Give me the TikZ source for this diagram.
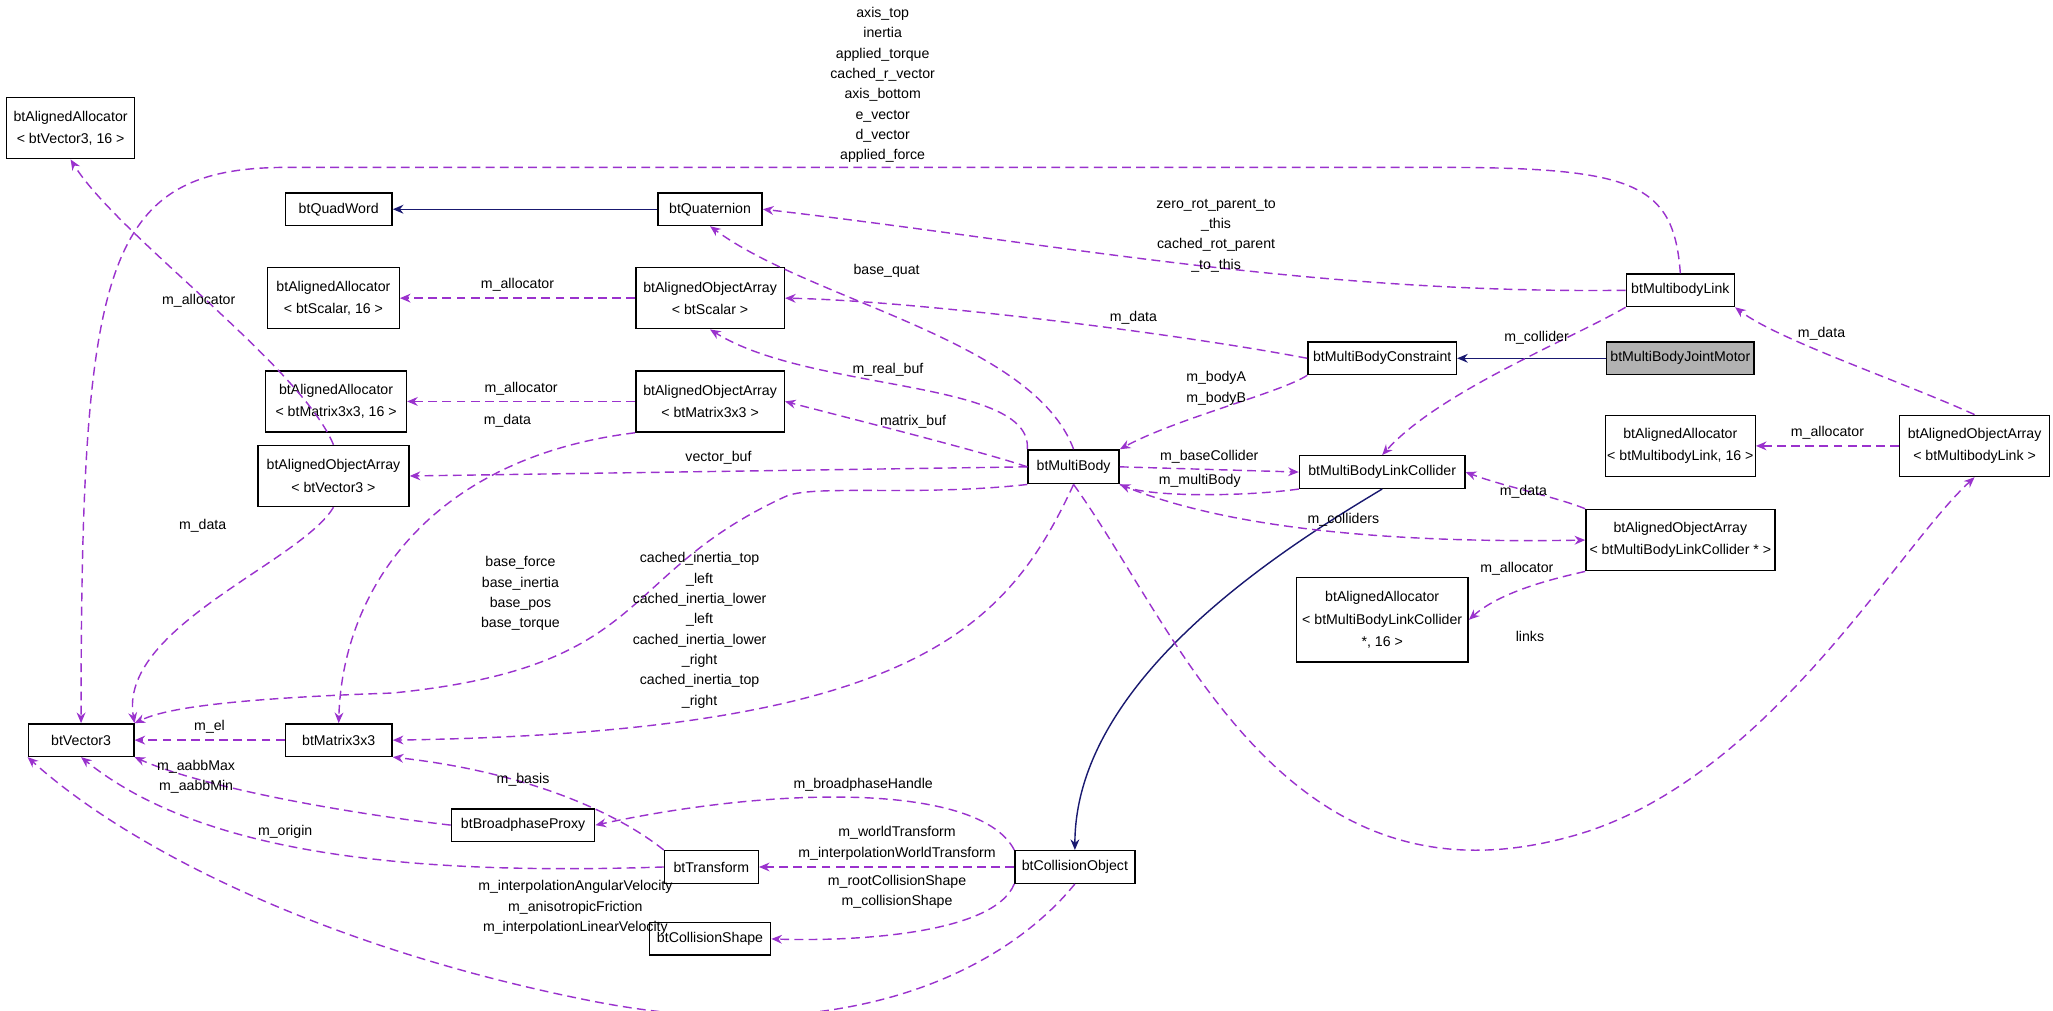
\documentclass[tikz,border=0pt]{standalone}
\usepackage{fontspec}
\setmainfont{Liberation Sans}
\usetikzlibrary{arrows.meta}
\definecolor{member}{HTML}{9A32CD}
\definecolor{inherit}{HTML}{191970}
\begin{document}
\begin{tikzpicture}[
		x=0.026cm, y=-0.026cm,
		>={Stealth[length=6pt,width=5pt]},
		cls/.style={
				rectangle,
				draw=black,
				thick,
				inner sep=1pt,
				align=center,
				font=\fontsize{8}{12.5}\selectfont
			},
		sz/.style 2 args={minimum width=#1*0.737pt, minimum height=#2*0.737pt},
		focus/.style={cls, fill=black!30},
		uses/.style={->, member, thick, dashed, dash pattern=on 5pt off 3pt},
		isa/.style={->, inherit, thick},
		lbl/.style={black, align=center, font=\fontsize{8}{11.5}\selectfont}
	]
	\useasboundingbox (0,0) rectangle (1570,773);

	% Nodes
	\node[cls, sz={98}{47}] (allocV) at (54,98) {btAlignedAllocator\\{\textless} btVector3, 16 {\textgreater}};
	\node[cls, sz={81}{25}] (vec) at (62,566) {btVector3};
	\node[cls, sz={82}{25}] (qword) at (259,160) {btQuadWord};
	\node[cls, sz={101}{47}] (allocS) at (255,228) {btAlignedAllocator\\{\textless} btScalar, 16 {\textgreater}};
	\node[cls, sz={108}{47}] (allocM) at (257,307) {btAlignedAllocator\\{\textless} btMatrix3x3, 16 {\textgreater}};
	\node[cls, sz={116}{47}] (arrV) at (255,364) {btAlignedObjectArray\\{\textless} btVector3 {\textgreater}};
	\node[cls, sz={82}{25}] (mat) at (259,566) {btMatrix3x3};
	\node[cls, sz={80}{25}] (quat) at (543,160) {btQuaternion};
	\node[cls, sz={114}{47}] (arrS) at (543,228) {btAlignedObjectArray\\{\textless} btScalar {\textgreater}};
	\node[cls, sz={114}{47}] (arrM) at (543,307) {btAlignedObjectArray\\{\textless} btMatrix3x3 {\textgreater}};
	\node[cls, sz={110}{25}] (proxy) at (400,631) {btBroadphaseProxy};
	\node[cls, sz={72}{25}] (trans) at (544,663) {btTransform};
	\node[cls, sz={93}{25}] (shape) at (543,718) {btCollisionShape};
	\node[cls, sz={70}{26}] (body) at (821,357) {btMultiBody};
	\node[cls, sz={92}{25}] (cobj) at (822,663) {btCollisionObject};
	\node[cls, sz={114}{25}] (cons) at (1057,274) {btMultiBodyConstraint};
	\node[cls, sz={127}{25}] (coll) at (1057,361) {btMultiBodyLinkCollider};
	\node[cls, sz={83}{25}] (link) at (1285,222) {btMultibodyLink};
	\node[focus, sz={113}{25}] (motor) at (1285,274) {btMultiBodyJointMotor};
	\node[cls, sz={145}{47}] (arrC) at (1285,413) {btAlignedObjectArray\\{\textless} btMultiBodyLinkCollider * {\textgreater}};
	\node[cls, sz={132}{65}] (allocC) at (1057,474) {btAlignedAllocator\\{\textless} btMultiBodyLinkCollider\\*, 16 {\textgreater}};
	\node[cls, sz={114}{47}] (allocL) at (1285,341) {btAlignedAllocator\\{\textless} btMultibodyLink, 16 {\textgreater}};
	\node[cls, sz={115}{47}] (arrL) at (1510,341) {btAlignedObjectArray\\{\textless} btMultibodyLink {\textgreater}};

	% Inheritance
	\draw[isa] (quat) -- (qword);
	\draw[isa] (motor) -- (cons);
	\draw[isa] (coll.south) .. controls (980,420) and (822,520) .. (cobj.north);

	% Members
	\draw[uses] (arrV.north) .. controls (230,280) and (90,180) .. (allocV.south);
	\node[lbl] at (152,230) {m\_allocator};
	\draw[uses] (arrV.south) .. controls (230,430) and (90,480) .. (vec.north east);
	\node[lbl] at (155,402) {m\_data};
	\draw[uses] (arrS.west) -- node[lbl, above] {m\_allocator} (allocS.east);
	\draw[uses] (arrM.west) -- node[lbl, above] {m\_allocator} (allocM.east);
	\draw[uses] (arrM.south west) .. controls (330,350) and (262,450) .. (mat.north);
	\node[lbl] at (388,322) {m\_data};
	\draw[uses] (mat.west) -- node[lbl, above] {m\_el} (vec.east);
	\draw[uses] (link.north) .. controls (1280,140) and (1250,128) .. (1100,128) -- (220,128) .. controls (80,128) and (62,200) .. (vec.north);
	\node[lbl] at (675,65) {axis\_top\\inertia\\applied\_torque\\cached\_r\_vector\\axis\_bottom\\e\_vector\\d\_vector\\applied\_force};
	\draw[uses] (link.west) .. controls (1000,225) and (800,185) .. (quat.east);
	\node[lbl] at (930,180) {zero\_rot\_parent\_to\\\_this\\cached\_rot\_parent\\\_to\_this};
	\draw[uses] (link.south west) .. controls (1200,260) and (1100,300) .. (coll.north);
	\node[lbl] at (1175,258) {m\_collider};
	\draw[uses] (cons.west) .. controls (900,255) and (700,230) .. node[lbl, pos=0.35, above] {m\_data} (arrS.east);
	\draw[uses] (cons.south west) .. controls (980,300) and (900,320) .. (body.north east);
	\node[lbl] at (930,297) {m\_bodyA\\m\_bodyB};
	\draw[uses] (body.north) .. controls (790,260) and (620,230) .. (quat.south);
	\node[lbl] at (678,207) {base\_quat};
	\draw[uses] (body.north west) .. controls (790,290) and (620,300) .. node[lbl, pos=0.55, above] {m\_real\_buf} (arrS.south);
	\draw[uses] (body.west) .. controls (750,345) and (650,320) .. node[lbl, pos=0.5, above] {matrix\_buf} (arrM.east);
	\draw[uses] (body.west) -- node[lbl, above] {vector\_buf} (arrV.east);
	\draw[uses] (body.south west) .. controls (700,380) and (620,370) .. (600,380) .. controls (470,440) and (500,510) .. (300,530) .. controls (150,535) and (120,545) .. (vec.north east);
	\node[lbl] at (398,454) {base\_force\\base\_inertia\\base\_pos\\base\_torque};
	\draw[uses] (body.south) .. controls (770,480) and (700,560) .. (mat.east);
	\node[lbl] at (535,482) {cached\_inertia\_top\\\_left\\cached\_inertia\_lower\\\_left\\cached\_inertia\_lower\\\_right\\cached\_inertia\_top\\\_right};
	\draw[uses] (body.east) -- node[lbl, above] {m\_baseCollider} (coll.west);
	\draw[uses] (coll.south west) .. controls (950,380) and (880,380) .. node[lbl, pos=0.5, above] {m\_multiBody} (body.south east);
	\draw[uses] (body.south east) .. controls (950,410) and (1100,415) .. node[lbl, pos=0.5, above] {m\_colliders} (arrC.west);
	\draw[uses] (body.south) .. controls (900,480) and (980,700) .. (1200,640) .. controls (1350,600) and (1450,420) .. (arrL.south);
	\node[lbl] at (1170,487) {links};
	\draw[uses] (arrC.north west) .. controls (1190,380) and (1150,372) .. (coll.east);
	\node[lbl] at (1165,376) {m\_data};
	\draw[uses] (arrC.south west) .. controls (1200,440) and (1150,450) .. (allocC.east);
	\node[lbl] at (1160,435) {m\_allocator};
	\draw[uses] (arrL.north) .. controls (1450,290) and (1360,260) .. (link.south east);
	\node[lbl] at (1393,255) {m\_data};
	\draw[uses] (arrL.west) -- node[lbl, above] {m\_allocator} (allocL.east);
	\draw[uses] (proxy.west) .. controls (250,620) and (150,600) .. (vec.south east);
	\node[lbl] at (150,594) {m\_aabbMax\\m\_aabbMin};
	\draw[uses] (trans.north west) .. controls (470,620) and (400,590) .. (mat.south east);
	\node[lbl] at (400,596) {m\_basis};
	\draw[uses] (trans.west) .. controls (300,670) and (150,650) .. node[lbl, pos=0.55, above] {m\_origin} (vec.south);
	\draw[uses] (cobj.north west) .. controls (750,600) and (600,600) .. node[lbl, pos=0.5, above] {m\_broadphaseHandle} (proxy.east);
	\draw[uses] (cobj.west) -- (trans.east);
	\node[lbl] at (686,645) {m\_worldTransform\\m\_interpolationWorldTransform};
	\draw[uses] (cobj.south west) .. controls (760,715) and (650,720) .. (shape.east);
	\node[lbl] at (686,682) {m\_rootCollisionShape\\m\_collisionShape};
	\draw[uses] (cobj.south) .. controls (770,740) and (650,805) .. (450,765) .. controls (250,725) and (100,650) .. (vec.south west);
	\node[lbl] at (440,694) {m\_interpolationAngularVelocity\\m\_anisotropicFriction\\m\_interpolationLinearVelocity};

\end{tikzpicture}
\end{document}
